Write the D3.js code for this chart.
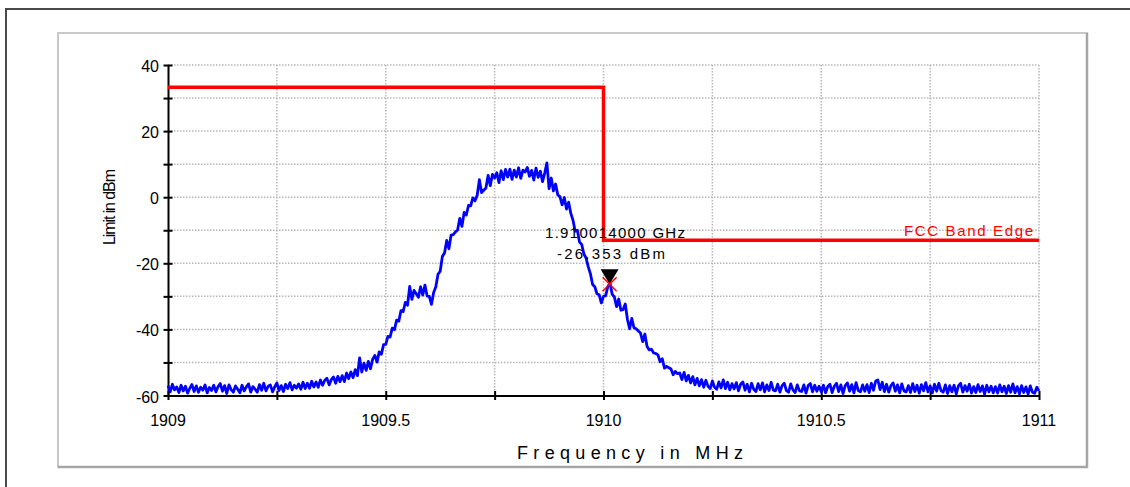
<!DOCTYPE html>
<html>
<head>
<meta charset="utf-8">
<script src="https://cdn.jsdelivr.net/npm/d3@7"></script>
<style>
  html, body { margin: 0; padding: 0; background: #fff; }
  svg { display: block; font-family: Arial, "Liberation Sans", sans-serif; }
  .grid-line { stroke: #b8b8b8; stroke-width: 1.5; stroke-dasharray: 1.5 1.5; }
  .tick-text { font-size: 16px; fill: #000; }
</style>
</head>
<body>
<svg id="chart" width="1130" height="487"></svg>
<script>
// ── SPECTRUM TRACE WITH FCC BAND EDGE LIMIT ───────────────────────────────

// sweep 1909 .. 1911 MHz, 401 points
const sweepStart = 1909;
const sweepStop = 1911;
const traceLevel = [
  -57.0,-58.9,-56.6,-58.3,-57.4,-59.1,-56.9,-58.6,-57.2,-59.3,-57.8,-56.7,-58.8,-57.1,-59.0,-57.5,-58.4,-56.8,-59.2,-57.6,
  -58.5,-56.9,-58.9,-57.3,-56.4,-58.7,-57.0,-59.4,-56.8,-58.2,-59.0,-57.1,-58.1,-59.2,-56.9,-58.6,-57.4,-56.5,-59.0,-57.3,
  -58.1,-59.0,-56.7,-58.4,-56.3,-58.6,-57.2,-56.8,-58.9,-57.4,-56.2,-58.5,-57.0,-58.8,-56.6,-57.9,-56.1,-58.3,-56.9,-57.8,
  -56.5,-58.1,-56.0,-57.9,-56.3,-57.8,-55.7,-57.4,-55.9,-57.5,-55.3,-56.9,-55.4,-54.8,-56.8,-55.2,-54.4,-56.3,-54.2,-55.8,
  -54.0,-55.8,-53.2,-54.9,-52.9,-54.6,-52.2,-54.0,-48.6,-52.9,-50.2,-52.4,-49.7,-51.9,-49.0,-47.9,-49.9,-46.8,-47.5,-44.6,
  -44.5,-42.1,-42.3,-39.6,-40.1,-37.2,-37.5,-34.3,-34.6,-31.8,-32.7,-27.0,-30.9,-28.2,-29.2,-30.3,-27.1,-29.6,-26.6,-29.9,
  -30.0,-32.4,-28.8,-27.1,-23.3,-22.4,-17.9,-16.9,-13.1,-15.6,-11.5,-11.3,-10.5,-9.9,-6.4,-8.8,-4.6,-5.4,-2.5,-2.6,
  -0.2,-1.1,0.6,5.3,1.4,2.1,2.8,6.6,3.5,6.9,5.8,7.4,4.4,8.0,5.3,8.4,6.1,8.5,5.4,8.2,
  6.1,8.9,5.7,8.2,7.6,9.0,6.3,8.1,5.2,8.8,6.0,7.9,4.7,7.3,10.4,2.6,5.8,1.9,4.0,0.7,
  0.2,-2.3,-0.1,-3.6,-1.5,-4.9,-7.0,-10.3,-10.0,-13.6,-14.3,-17.2,-18.4,-21.1,-23.2,-26.4,-27.1,-29.2,-29.5,-32.0,
  -30.0,-29.8,-27.0,-26.0,-29.4,-30.2,-33.1,-30.8,-34.2,-34.0,-32.3,-37.0,-39.8,-36.7,-39.5,-39.8,-40.5,-41.1,-43.7,-41.4,
  -45.2,-46.2,-46.0,-47.1,-47.3,-47.7,-49.8,-48.9,-51.7,-51.2,-51.6,-52.0,-53.7,-52.7,-53.4,-53.2,-55.2,-53.0,-55.6,-53.9,
  -56.2,-54.3,-56.8,-54.8,-57.1,-55.2,-57.5,-55.4,-57.2,-57.9,-55.6,-57.5,-58.1,-55.9,-57.7,-55.3,-57.9,-56.0,-58.3,-56.4,
  -58.0,-56.1,-58.6,-56.6,-55.9,-58.4,-56.6,-58.9,-56.3,-58.1,-58.8,-56.4,-58.3,-56.2,-58.9,-56.8,-58.5,-56.0,-58.4,-58.6,
  -56.6,-59.0,-57.0,-56.3,-58.5,-59.0,-56.5,-58.3,-59.1,-56.8,-58.6,-58.8,-56.8,-59.3,-57.0,-56.4,-58.9,-56.9,-58.7,-57.2,
  -58.9,-56.9,-59.2,-57.3,-56.6,-59.1,-57.2,-56.3,-58.8,-56.8,-59.4,-57.0,-56.2,-58.7,-56.7,-59.2,-56.1,-58.5,-58.9,-56.8,
  -58.7,-56.7,-59.1,-56.3,-58.4,-55.6,-55.3,-58.2,-56.0,-58.8,-56.6,-59.0,-57.0,-56.2,-58.7,-56.8,-59.2,-56.5,-58.6,-58.9,
  -57.0,-59.1,-56.4,-58.8,-56.9,-59.3,-56.7,-58.6,-56.1,-58.9,-57.1,-59.2,-56.6,-58.7,-56.3,-58.5,-59.0,-56.8,-59.4,-57.0,
  -58.9,-56.9,-59.5,-57.1,-56.3,-59.0,-57.0,-58.7,-56.6,-59.3,-57.3,-59.1,-56.7,-58.8,-57.1,-59.6,-56.9,-58.9,-57.2,-59.2,
  -57.3,-59.3,-56.8,-58.9,-57.2,-59.4,-57.0,-59.0,-56.5,-59.2,-57.3,-59.5,-57.0,-59.1,-57.4,-59.6,-57.1,-59.0,-59.3,-57.5,
  -58.6
];

// FCC limit (step at the band edge)
const limitFreq = [1909, 1910, 1910, 1911];
const limitLevel = [33.3, 33.3, -13, -13];

// marker
const markerFreq = 1910.014;
const markerLevel = -26.353;
const markerLines = ["1.910014000 GHz", "-26.353 dBm"];

// ticks
const xGridTicks = [1909, 1909.25, 1909.5, 1909.75, 1910, 1910.25, 1910.5, 1910.75, 1911];
const xLabelTicks = [1909, 1909.5, 1910, 1910.5, 1911];
const yGridTicks = [-60, -50, -40, -30, -20, -10, 0, 10, 20, 30, 40];
const yLabelTicks = [-60, -40, -20, 0, 20, 40];

const svg = d3.select("#chart");

// outer page frame
svg.append("path")
  .attr("d", "M6,487 V9 H1130")
  .attr("fill", "none")
  .attr("stroke", "#4a4a4a")
  .attr("stroke-width", 2);

// chart box
svg.append("rect")
  .attr("x", 58).attr("y", 33).attr("width", 1029).attr("height", 434)
  .attr("fill", "#fff")
  .attr("stroke", "#c8c8c8")
  .attr("stroke-width", 2);
svg.append("path")
  .attr("d", "M1087,33 V467 H58")
  .attr("fill", "none")
  .attr("stroke", "#a6a6a6")
  .attr("stroke-width", 2.5);

const plotLeft = 168, plotRight = 1039, plotTop = 65, plotBottom = 395.5;
const xScale = d3.scaleLinear().domain([sweepStart, sweepStop]).range([plotLeft, plotRight]);
const yScale = d3.scaleLinear().domain([-60, 40]).range([plotBottom, plotTop]);
const idxToFreq = d3.scaleLinear().domain([0, traceLevel.length - 1]).range([sweepStart, sweepStop]);

// grid
const grid = svg.append("g");
grid.selectAll(".gx")
  .data(xGridTicks.slice(1))
  .join("line")
  .attr("class", "grid-line gx")
  .attr("x1", (d) => xScale(d)).attr("x2", (d) => xScale(d))
  .attr("y1", plotTop).attr("y2", plotBottom);
grid.selectAll(".gy")
  .data(yGridTicks.slice(1))
  .join("line")
  .attr("class", "grid-line gy")
  .attr("x1", plotLeft).attr("x2", plotRight)
  .attr("y1", (d) => yScale(d)).attr("y2", (d) => yScale(d));

// axes (ticks cross the axis line)
const xAxis = svg.append("g")
  .attr("transform", `translate(0,${plotBottom})`)
  .call(d3.axisBottom(xScale).tickValues(xGridTicks).tickSize(0).tickFormat(""));
xAxis.select(".domain").attr("stroke", "#000").attr("stroke-width", 2);
xAxis.selectAll(".tick line").attr("y1", -4.5).attr("y2", 4.5).attr("stroke", "#000").attr("stroke-width", 2);

const yAxis = svg.append("g")
  .attr("transform", `translate(${plotLeft},0)`)
  .call(d3.axisLeft(yScale).tickValues(yGridTicks).tickSize(0).tickFormat(""));
yAxis.select(".domain").attr("stroke", "#000").attr("stroke-width", 2);
yAxis.selectAll(".tick line").attr("x1", -4.5).attr("x2", 4.5).attr("stroke", "#000").attr("stroke-width", 2);

// tick labels
svg.append("g").selectAll("text")
  .data(xLabelTicks)
  .join("text")
  .attr("class", "tick-text")
  .attr("x", (d) => xScale(d))
  .attr("y", plotBottom + 30.5)
  .attr("text-anchor", "middle")
  .text((d) => String(d));
svg.append("g").selectAll("text")
  .data(yLabelTicks)
  .join("text")
  .attr("class", "tick-text")
  .attr("x", plotLeft - 9)
  .attr("y", (d) => yScale(d) + 7)
  .attr("text-anchor", "end")
  .text((d) => String(d));

// axis titles
svg.append("text")
  .attr("x", 517)
  .attr("y", 459)
  .attr("font-size", 18)
  .attr("textLength", 226)
  .attr("lengthAdjust", "spacing")
  .text("Frequency in MHz");
svg.append("text")
  .attr("transform", "translate(115,245) rotate(-90)")
  .attr("font-size", 16)
  .attr("textLength", 76)
  .attr("lengthAdjust", "spacing")
  .text("Limit in dBm");

// limit line
const limitData = limitFreq.map((f, i) => [f, limitLevel[i]]);
svg.append("path")
  .attr("d", d3.line().x((d) => xScale(d[0])).y((d) => yScale(d[1]))(limitData))
  .attr("fill", "none")
  .attr("stroke", "#ff0000")
  .attr("stroke-width", 3.5);
svg.append("text")
  .attr("x", 904)
  .attr("y", yScale(-13) - 4)
  .attr("font-size", 15)
  .attr("fill", "#ff0000")
  .attr("textLength", 129)
  .attr("lengthAdjust", "spacing")
  .text("FCC Band Edge");

// trace
svg.append("path")
  .attr("d", d3.line().x((d, i) => xScale(idxToFreq(i))).y((d) => yScale(d))(traceLevel))
  .attr("fill", "none")
  .attr("stroke", "#0000ff")
  .attr("stroke-width", 2.8)
  .attr("stroke-linejoin", "round");

// marker
const mx = xScale(markerFreq), my = yScale(markerLevel);
svg.append("path")
  .attr("d", `M${mx},${my} L${mx - 9},${my - 15} L${mx + 9},${my - 15} Z`)
  .attr("fill", "#000");
svg.append("path")
  .attr("d", `M${mx - 7},${my - 7} L${mx + 7},${my + 7} M${mx - 7},${my + 7} L${mx + 7},${my - 7}`)
  .attr("stroke", "#ff0000")
  .attr("stroke-width", 1.5);
svg.append("text")
  .attr("x", 545)
  .attr("y", 238)
  .attr("font-size", 15)
  .attr("textLength", 140)
  .attr("lengthAdjust", "spacing")
  .text(markerLines[0]);
svg.append("text")
  .attr("x", 557)
  .attr("y", 259)
  .attr("font-size", 15)
  .attr("textLength", 108)
  .attr("lengthAdjust", "spacing")
  .text(markerLines[1]);
</script>
</body>
</html>
